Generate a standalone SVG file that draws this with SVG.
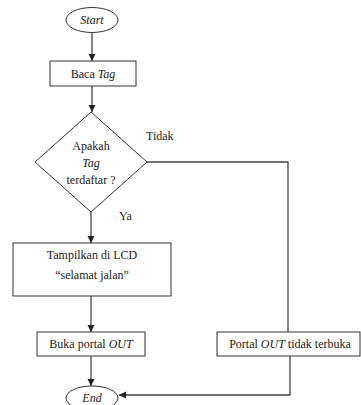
<svg xmlns="http://www.w3.org/2000/svg" width="361" height="405" viewBox="0 0 361 405">
<defs>
<marker id="arr" markerWidth="8" markerHeight="8" refX="7" refY="4" orient="auto" markerUnits="userSpaceOnUse">
<path d="M0,0.5 L7,4 L0,7.5 Z" fill="#222"/>
</marker>
<style>
.shape{fill:#fff;stroke:#333;stroke-width:1}
.t{font-size:12px;fill:#222;text-anchor:middle}
.l{font-size:12px;fill:#222}
.c{fill:none;stroke:#444;stroke-width:1.3}
</style>
</defs>
<rect width="361" height="405" fill="#fff"/>
<g font-family="Liberation Serif, DejaVu Serif, serif">
<g id="connectors">
<line class="c" x1="92" y1="33" x2="92" y2="61" marker-end="url(#arr)"/>
<line class="c" x1="92" y1="86" x2="92" y2="112" marker-end="url(#arr)"/>
<line class="c" x1="91" y1="212" x2="91" y2="243" marker-end="url(#arr)"/>
<line class="c" x1="91" y1="296" x2="91" y2="332" marker-end="url(#arr)"/>
<line class="c" x1="91" y1="356" x2="91" y2="386" marker-end="url(#arr)"/>
<polyline class="c" points="147,162 288,162 288,332"/>
<polyline class="c" points="290,356 290,395 119,395" marker-end="url(#arr)"/>
<text class="l" x="146" y="140">Tidak</text>
<text class="l" x="119" y="220">Ya</text>
</g>
<g id="start">
<ellipse class="shape" cx="92" cy="20" rx="26" ry="12.5"/>
<text class="t" x="92" y="24" font-style="italic">Start</text>
</g>
<g id="baca">
<rect class="shape" x="50" y="61" width="86" height="25"/>
<text class="t" x="93" y="78">Baca <tspan font-style="italic">Tag</tspan></text>
</g>
<g id="decision">
<polygon class="shape" points="91,112 147,162 91,212 35,162"/>
<text class="t" x="91" y="150">Apakah</text>
<text class="t" x="91" y="167" font-style="italic">Tag</text>
<text class="t" x="91" y="184">terdaftar ?</text>
</g>
<g id="tampilkan">
<rect class="shape" x="13" y="243" width="158" height="53"/>
<text class="t" x="92" y="259">Tampilkan di LCD</text>
<text class="t" x="92" y="279">“selamat jalan”</text>
</g>
<g id="buka">
<rect class="shape" x="37" y="332" width="108" height="24"/>
<text class="t" x="91" y="348">Buka portal <tspan font-style="italic">OUT</tspan></text>
</g>
<g id="portal">
<rect class="shape" x="217" y="332" width="143" height="24"/>
<text class="t" x="290" y="348">Portal <tspan font-style="italic">OUT</tspan> tidak terbuka</text>
</g>
<g id="end">
<ellipse class="shape" cx="92" cy="398" rx="26" ry="12"/>
<text class="t" x="92" y="402" font-style="italic">End</text>
</g>
</g>
</svg>
